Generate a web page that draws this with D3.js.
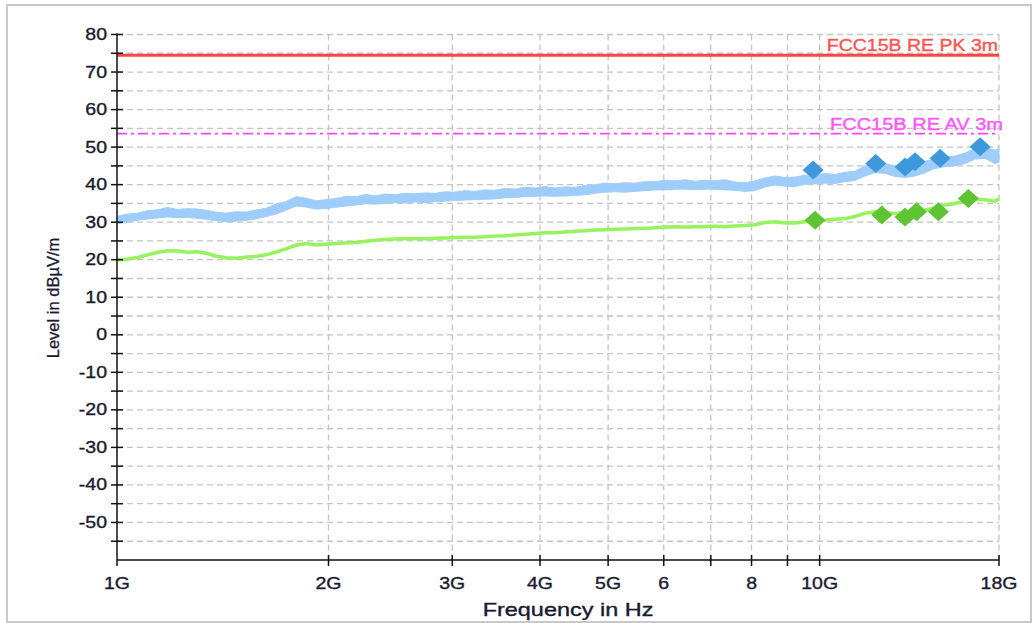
<!DOCTYPE html>
<html>
<head>
<meta charset="utf-8">
<script src="https://cdn.jsdelivr.net/npm/d3@7"></script>
<style>
  html, body { margin: 0; padding: 0; background: #fff; }
  svg { display: block; }
  text { font-family: "Liberation Sans", Arial, sans-serif; }
</style>
</head>
<body>
<svg id="chart" width="1033" height="623"></svg>
<script>
// ---------------- data ----------------
const freqGHz = [
  1.00, 1.03, 1.07, 1.10, 1.14, 1.18, 1.22, 1.26, 1.30, 1.34,
  1.38, 1.43, 1.48, 1.53, 1.58, 1.63, 1.68, 1.74, 1.80, 1.86,
  1.92, 1.98, 2.05, 2.12, 2.19, 2.26, 2.33, 2.41, 2.49, 2.57,
  2.66, 2.75, 2.84, 2.93, 3.03, 3.13, 3.23, 3.34, 3.45, 3.57,
  3.69, 3.81, 3.94, 4.07, 4.20, 4.34, 4.49, 4.64, 4.79, 4.95,
  5.12, 5.29, 5.46, 5.64, 5.83, 6.03, 6.23, 6.43, 6.65, 6.87,
  7.10, 7.33, 7.58, 7.83, 8.09, 8.36, 8.64, 8.93, 9.22, 9.53,
  9.85, 10.18, 10.52, 10.87, 11.23, 11.60, 11.99, 12.39, 12.80, 13.23,
  13.67, 14.12, 14.59, 15.08, 15.58, 16.10, 16.64, 17.19, 17.76, 18.00
];
// Peak trace (max-hold band): upper and lower edge, dBµV/m
const peakHi = [
  31.5, 32.1, 32.4, 33.0, 33.3, 33.9, 33.4, 33.6, 33.5, 33.2,
  32.7, 32.4, 32.8, 32.7, 33.3, 33.7, 34.8, 35.5, 36.8, 36.4,
  35.7, 36.0, 36.3, 36.9, 36.8, 37.4, 37.0, 37.5, 37.3, 37.7,
  37.6, 37.8, 37.7, 38.1, 38.0, 38.4, 38.2, 38.6, 38.5, 39.0,
  38.8, 39.3, 39.1, 39.5, 39.1, 39.4, 39.3, 39.8, 40.0, 40.4,
  40.3, 40.5, 40.4, 40.8, 40.8, 41.2, 41.0, 41.3, 40.9, 41.2,
  41.0, 41.3, 40.7, 40.5, 41.0, 41.8, 42.3, 41.9, 42.0, 42.5,
  42.6, 43.0, 42.7, 43.3, 43.6, 45.0, 45.5, 45.6, 45.0, 45.4,
  45.8, 46.2, 46.9, 47.4, 47.6, 48.4, 49.6, 50.0, 49.2, 49.4
];
const peakLo = [
  29.6, 29.9, 30.5, 30.8, 31.1, 31.4, 31.2, 31.3, 31.0, 30.8,
  30.4, 30.1, 30.3, 30.5, 30.9, 31.5, 32.1, 33.2, 34.3, 34.0,
  33.5, 33.6, 34.0, 34.3, 34.6, 34.9, 34.8, 35.0, 35.2, 35.1,
  35.4, 35.2, 35.5, 35.6, 35.8, 35.9, 36.0, 36.1, 36.2, 36.5,
  36.6, 36.8, 36.9, 37.0, 36.9, 37.0, 37.1, 37.3, 37.7, 38.0,
  38.1, 38.0, 38.2, 38.4, 38.6, 38.6, 38.8, 38.8, 38.7, 38.8,
  38.8, 38.6, 38.5, 38.2, 38.4, 39.4, 39.9, 39.6, 39.5, 40.1,
  40.2, 40.4, 40.3, 40.8, 41.1, 42.3, 43.2, 43.0, 42.2, 41.9,
  42.3, 43.2, 44.3, 44.8, 45.0, 45.6, 46.8, 47.0, 45.6, 45.9
];
// Average trace, dBµV/m
const avgLevel = [
  19.9, 20.1, 20.6, 21.2, 21.9, 22.4, 22.3, 22.0, 22.1, 21.7,
  21.0, 20.5, 20.4, 20.7, 20.9, 21.3, 22.0, 22.9, 23.9, 24.3,
  23.9, 24.1, 24.3, 24.5, 24.6, 24.9, 25.2, 25.4, 25.5, 25.6,
  25.6, 25.6, 25.7, 25.8, 25.9, 26.0, 26.0, 26.1, 26.3, 26.4,
  26.6, 26.8, 27.0, 27.2, 27.2, 27.4, 27.6, 27.7, 27.9, 28.0,
  28.1, 28.2, 28.3, 28.3, 28.5, 28.7, 28.8, 28.7, 28.8, 28.8,
  28.9, 28.8, 29.0, 29.1, 29.3, 29.9, 30.1, 29.8, 29.8, 30.1,
  30.3, 30.5, 30.8, 31.0, 31.5, 32.4, 32.8, 32.5, 32.3, 32.6,
  33.0, 33.2, 33.8, 34.6, 35.0, 35.6, 36.2, 36.0, 35.6, 36.2
];
const peakMarkerFreq  = [9.79, 12.02, 13.23, 13.67, 14.84, 16.92];
const peakMarkerLevel = [43.9, 45.6, 44.7, 46.1, 47.0, 50.1];
const avgMarkerFreq   = [9.85, 12.26, 13.23, 13.74, 14.76, 16.28];
const avgMarkerLevel  = [30.5, 31.9, 31.4, 32.8, 32.8, 36.3];

const limitNames  = ["FCC15B RE PK 3m", "FCC15B RE AV 3m"];
const limitLevels = [74.5, 53.6];

const xTickValues = [1, 2, 3, 4, 5, 6, 7, 8, 9, 10, 18];
const xTickLabels = ["1G", "2G", "3G", "4G", "5G", "6", "", "8", "", "10G", "18G"];
const yMajorTicks = [-50, -40, -30, -20, -10, 0, 10, 20, 30, 40, 50, 60, 70, 80];
const yMinorTicks = [-55, -45, -35, -25, -15, -5, 5, 15, 25, 35, 45, 55, 65, 75];

// ---------------- layout ----------------
const svg = d3.select("#chart");
const L = 117, R = 999, T = 34.5, B = 560;
const SX = 1.22; // horizontal text stretch of the original rendering
const TXT = "#1a1a30";

const x = d3.scaleLog().domain([1, 18]).range([L, R]);
const y = d3.scaleLinear().domain([-60, 80]).range([B, T]);

// outer frame
svg.append("rect").attr("x", 7).attr("y", 5).attr("width", 1024).attr("height", 617)
  .attr("fill", "#fff").attr("stroke", "#c8c8c8").attr("stroke-width", 2);

function stretchedText(g, tx, ty, str, anchor, size, color, sx) {
  return g.append("text")
    .attr("transform", `translate(${tx},${ty}) scale(${sx || SX},1)`)
    .attr("text-anchor", anchor)
    .attr("font-size", size)
    .attr("fill", color)
    .attr("stroke", color).attr("stroke-width", 0.35)
    .text(str);
}

// grid
const grid = svg.append("g");
grid.selectAll("line.h").data(yMajorTicks.concat(yMinorTicks)).join("line")
  .attr("x1", L).attr("x2", R).attr("y1", d => y(d)).attr("y2", d => y(d))
  .attr("stroke", "#c4c4c4").attr("stroke-width", 1.3).attr("stroke-dasharray", "6,4");
grid.selectAll("line.v").data(xTickValues.slice(1)).join("line")
  .attr("x1", d => x(d)).attr("x2", d => x(d)).attr("y1", T).attr("y2", B)
  .attr("stroke", "#c4c4c4").attr("stroke-width", 1.3).attr("stroke-dasharray", "6,4");

// limit lines
svg.append("line").attr("x1", L).attr("x2", R)
  .attr("y1", y(limitLevels[0])).attr("y2", y(limitLevels[0]))
  .attr("stroke", "#ff4545").attr("stroke-width", 3);
svg.append("line").attr("x1", L).attr("x2", R)
  .attr("y1", y(limitLevels[1])).attr("y2", y(limitLevels[1]))
  .attr("stroke", "#ff44ff").attr("stroke-width", 1.6).attr("stroke-dasharray", "10,4,3,4");
stretchedText(svg, 998, y(limitLevels[0]) - 4, limitNames[0], "end", 16, "#ff5252");
stretchedText(svg, 1003, y(limitLevels[1]) - 4, limitNames[1], "end", 16, "#ff55ff", 1.25);

// traces
const idx = d3.range(freqGHz.length);
const peakArea = d3.area()
  .x(i => x(freqGHz[i])).y0(i => y(peakLo[i])).y1(i => y(peakHi[i]));
svg.append("path").datum(idx).attr("d", peakArea)
  .attr("fill", "#9fcdfb").attr("stroke", "#9fcdfb").attr("stroke-width", 1);

const avgLine = d3.line().x(i => x(freqGHz[i])).y(i => y(avgLevel[i]));
svg.append("path").datum(idx).attr("d", avgLine)
  .attr("fill", "none").attr("stroke", "#96f35e").attr("stroke-width", 3.5);

// markers
const diamond = "M0,-9.5L10.5,0L0,9.5L-10.5,0Z";
svg.append("g").selectAll("path").data(d3.range(peakMarkerFreq.length)).join("path")
  .attr("d", diamond)
  .attr("transform", i => `translate(${x(peakMarkerFreq[i])},${y(peakMarkerLevel[i])})`)
  .attr("fill", "#3d99dc");
svg.append("g").selectAll("path").data(d3.range(avgMarkerFreq.length)).join("path")
  .attr("d", diamond)
  .attr("transform", i => `translate(${x(avgMarkerFreq[i])},${y(avgMarkerLevel[i])})`)
  .attr("fill", "#5fc433");

// axes
const ax = svg.append("g").attr("stroke", "#111").attr("stroke-width", 1.5);
ax.append("line").attr("x1", L).attr("x2", L).attr("y1", T - 1).attr("y2", B);
ax.append("line").attr("x1", L).attr("x2", R).attr("y1", B).attr("y2", B);
ax.selectAll("line.yt").data(yMajorTicks.concat(yMinorTicks)).join("line")
  .attr("x1", L - 6).attr("x2", L + 6).attr("y1", d => y(d)).attr("y2", d => y(d));
ax.selectAll("line.xt").data(xTickValues).join("line")
  .attr("x1", d => x(d)).attr("x2", d => x(d))
  .attr("y1", d => d === 1 ? B : B - 5).attr("y2", B + 6);

const labels = svg.append("g");
yMajorTicks.forEach(v => {
  stretchedText(labels, 107, y(v) + 5.5, String(v), "end", 16, TXT);
});
xTickValues.forEach((v, i) => {
  if (xTickLabels[i]) stretchedText(labels, x(v), 589, xTickLabels[i], "middle", 16, TXT);
});
stretchedText(labels, 568, 616, "Frequency in Hz", "middle", 17.5, TXT, 1.34);
labels.append("text")
  .attr("transform", "translate(59,298) rotate(-90)")
  .attr("text-anchor", "middle").attr("font-size", 16.5).attr("fill", TXT)
  .attr("stroke", TXT).attr("stroke-width", 0.3)
  .text("Level in dBµV/m");
</script>
</body>
</html>
